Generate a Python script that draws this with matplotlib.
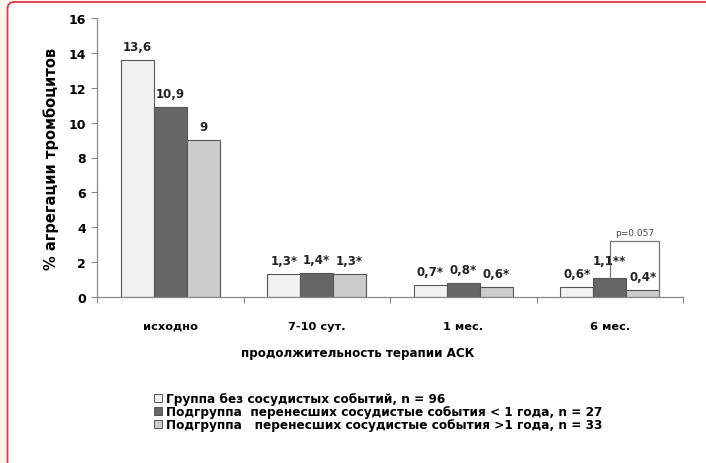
import matplotlib
matplotlib.use('Agg')
import matplotlib.pyplot as plt
from matplotlib.patches import Patch, PathPatch
from matplotlib.path import Path
from matplotlib.transforms import IdentityTransform
import numpy as np

plt.rcParams['font.family'] = ['DejaVu Sans']
plt.rcParams['font.weight'] = 'bold'

categories = ['исходно', '7-10 сут.', '1 мес.', '6 мес.']
group_none = [13.6, 1.3, 0.7, 0.6]
group_lt1 = [10.9, 1.4, 0.8, 1.1]
group_gt1 = [9.0, 1.3, 0.6, 0.4]
labels_none = ['13,6', '1,3*', '0,7*', '0,6*']
labels_lt1 = ['10,9', '1,4*', '0,8*', '1,1**']
labels_gt1 = ['9', '1,3*', '0,6*', '0,4*']
series_names = ['Группа без сосудистых событий, n = 96',
                'Подгруппа  перенесших сосудистые события < 1 года, n = 27',
                'Подгруппа   перенесших сосудистые события >1 года, n = 33']
p_text = 'p=0.057'

colors = ['#f2f2f2', '#666666', '#cccccc']
edge = '#555555'

W, H = 706, 464
fig = plt.figure(figsize=(W / 100, H / 100), dpi=100)
fig.patch.set_facecolor('#fff7ef')

# white panel, red border along top and left with a rounded corner (pixel coords)
x0, top, r = 7.5, H - 3.0, 7
panel = Path([(W + 5, -5), (W + 5, top), (x0 + r, top), (x0, top), (x0, top - r),
              (x0, -5), (W + 5, -5)],
             [Path.MOVETO, Path.LINETO, Path.LINETO, Path.CURVE3, Path.CURVE3,
              Path.LINETO, Path.CLOSEPOLY])
fig.patches.append(PathPatch(panel, transform=IdentityTransform(),
                             facecolor='white', edgecolor='none', zorder=-11))
border = Path([(W + 5, top), (x0 + r, top), (x0, top), (x0, top - r), (x0, -5)],
              [Path.MOVETO, Path.LINETO, Path.CURVE3, Path.CURVE3, Path.LINETO])
fig.patches.append(PathPatch(border, transform=IdentityTransform(),
                             facecolor='none', edgecolor='#e8334a', lw=1.3,
                             zorder=-10))

ax = fig.add_axes([97 / W, 1 - 298 / H, (683 - 97) / W, (298 - 19) / H])
ax.set_facecolor('none')

x = np.arange(len(categories))
w = 0.225
series = [group_none, group_lt1, group_gt1]
texts = [labels_none, labels_lt1, labels_gt1]
for i, (vals, labs) in enumerate(zip(series, texts)):
    pos = x + (i - 1) * w
    ax.bar(pos, vals, width=w, color=colors[i], edgecolor=edge, linewidth=0.8,
           label=series_names[i])
    for px, v, t in zip(pos, vals, labs):
        dy = 5 if t != '1,1**' else 8
        ax.annotate(t, (px, v), xytext=(0, dy), textcoords='offset points',
                    ha='center', va='bottom', fontsize=8.5, fontweight='bold',
                    color='#222222')

# significance bracket for 6 months
xl = x[3]
xr = x[3] + 1.5 * w
ytop = 3.2
ax.plot([xl, xl, xr, xr], [group_lt1[3], ytop, ytop, 0], color='#777777', lw=0.9)
ax.text((xl + xr) / 2, ytop + 0.25, p_text, ha='center', va='bottom',
        fontsize=6.5, fontweight='normal', color='#444444')

ax.set_xlim(-0.5, len(categories) - 0.5)
ax.set_ylim(0, 16)
ax.set_yticks(np.arange(0, 17, 2))
ax.set_xticks(np.arange(-0.5, len(categories), 1.0), minor=False)
ax.set_xticklabels([])
ax.set_xticks(x, minor=True)
ax.set_xticklabels(categories, minor=True, fontsize=8.2, fontweight='bold')
ax.tick_params(axis='x', which='minor', length=0, pad=17)
ax.tick_params(axis='x', which='major', length=4, color='#888888', direction='out')
ax.tick_params(axis='y', length=4, color='#888888', labelsize=9, pad=4)
for lab in ax.get_yticklabels():
    lab.set_fontweight('bold')
for s in ['top', 'right']:
    ax.spines[s].set_visible(False)
for s in ['left', 'bottom']:
    ax.spines[s].set_color('#888888')
    ax.spines[s].set_linewidth(0.9)

ax.set_ylabel('% агрегации тромбоцитов', fontsize=10.5, fontweight='bold', labelpad=7)
fig.text(358 / W, 1 - 354 / H, 'продолжительность терапии АСК', ha='center',
         va='center', fontsize=8.6, fontweight='bold')

handles = [Patch(facecolor=c, edgecolor=edge, linewidth=0.7) for c in colors]
fig.legend(handles, series_names, loc='upper left',
           bbox_to_anchor=(148 / W, 1 - 387 / H), frameon=False,
           fontsize=8.7, handlelength=0.65, handleheight=0.65, handletextpad=0.3,
           labelspacing=0.0, borderpad=0)

fig.savefig('out.png', dpi=100)
